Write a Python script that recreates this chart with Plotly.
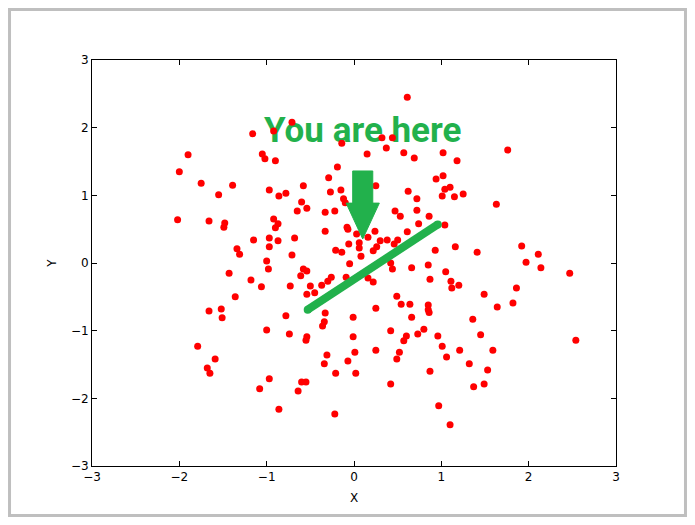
import plotly.graph_objects as go

# ---- data ----
pts_x = [0.61, -1.16, -0.92, -0.71, -1.90, -2.00, -1.05, -1.02, -0.90, -1.75, -1.39, -1.55, -0.97, -0.86, -0.78, -0.58, -0.60,
         -0.14, 0.32, 0.44, 0.37, 0.15, 0.57, 0.69, 1.02, -0.19, -0.29, -0.27, -0.15, -0.12, -0.10, 0.25, 0.62, 0.72, 0.94,
         1.02, 1.04, 1.10, 1.01, 1.76, 1.18, 1.15, 1.25, 1.63,
         -2.02, -1.66, -1.48, -1.49, -0.92, -0.87, -0.90, -0.65, -0.54, -1.15, -0.97, -0.87, -0.68, -0.97, -1.34, -1.31,
         -0.71, -1.00, -0.98, -1.43, -1.18, -1.06, -0.73, -0.58, -0.54, -0.61, -0.50, -0.54, -1.36, -1.66, -1.52, -1.51, -0.78,
         -0.33, -0.22, -0.33, -0.08, -0.07, 0.03, 0.16, 0.24, -0.21, -0.14, -0.06, 0.06, 0.06, 0.08, 0.22, 0.26, 0.30, 0.38,
         0.46, 0.50, 0.47, 0.53, 0.72, 0.86, 0.74, 0.61, 1.04, 0.93, -0.05, 0.42, 0.44, 0.66, 0.85, 1.05, 1.11, 0.87,
         -0.45, -0.37, -0.30, -0.26, -0.09, 0.16, 0.22, 0.49, 0.54, 0.64, 0.85, 0.85, 0.86, 0.25, -0.33, -0.01, 0.66,
         1.16, 1.41, 1.92, 2.11, 1.97, 2.14, 2.47, 1.12, 1.20, 1.49, 1.86, 1.64, 1.82, 1.36,
         -1.00, -0.74, -0.54, -0.55, -1.79, -1.59, -1.68, -1.65, -0.97, -1.08, -0.60, -0.55, -0.64, -0.86,
         -0.34, -0.36, -0.01, 0.42, 0.60, 0.57, 0.73, 0.80, 0.96, 1.01, 1.06, 0.25, 0.52, 0.49, -0.31, -0.34, 0.01,
         -0.07, -0.21, 0.02, 0.87, 0.42, 0.97, -0.22, 1.10,
         1.45, 1.21, 1.59, 1.32, 1.53, 1.49, 1.37, 2.54]
pts_y = [2.45, 1.91, 1.95, 2.08, 1.60, 1.35, 1.61, 1.54, 1.51, 1.18, 1.15, 1.01, 1.08, 0.99, 1.03, 1.14, 0.90,
         1.77, 1.85, 1.85, 1.70, 1.61, 1.63, 1.55, 1.63, 1.42, 1.26, 1.05, 1.08, 0.95, 0.89, 1.14, 1.06, 0.95, 1.24,
         1.29, 1.09, 1.12, 0.99, 1.67, 1.51, 0.98, 1.02, 0.87,
         0.64, 0.62, 0.59, 0.53, 0.65, 0.58, 0.52, 0.77, 0.81, 0.34, 0.37, 0.33, 0.37, 0.24, 0.21, 0.13,
         0.12, 0.03, -0.09, -0.15, -0.25, -0.35, -0.34, -0.09, -0.12, -0.19, -0.34, -0.46, -0.50, -0.71, -0.68, -0.81, -0.78,
         0.75, 0.77, 0.47, 0.53, 0.50, 0.43, 0.38, 0.47, 0.19, 0.16, 0.28, 0.30, 0.22, 0.10, 0.18, 0.24, 0.33, 0.34,
         0.28, 0.34, 0.77, 0.69, 0.78, 0.69, 0.58, 0.46, 0.56, 0.19, -0.01, 0.00, -0.09, -0.07, -0.03, -0.13, -0.27, -0.24,
         -0.44, -0.33, -0.27, -0.21, -0.21, -0.22, -0.28, -0.49, -0.61, -0.61, -0.62, -0.69, -0.73, -0.67, -0.74, -0.80, -0.80,
         0.24, 0.16, 0.25, 0.13, 0.01, -0.07, -0.15, -0.37, -0.33, -0.46, -0.37, -0.65, -0.59, -0.83,
         -0.99, -1.05, -1.09, -1.14, -1.23, -1.42, -1.55, -1.63, -1.71, -1.86, -1.76, -1.76, -1.89, -2.16,
         -0.87, -0.93, -1.09, -1.00, -1.08, -1.15, -1.05, -0.98, -1.08, -1.23, -1.39, -1.29, -1.32, -1.42, -1.36, -1.49, -1.32,
         -1.45, -1.63, -1.63, -1.60, -1.79, -2.11, -2.23, -2.39,
         -1.06, -1.29, -1.29, -1.49, -1.58, -1.79, -1.83, -1.14]

line_x = [-0.53, 0.96]
line_y = [-0.69, 0.57]

arrow_x = 0.10
arrow_tail_y = 1.36
arrow_tip_y = 0.355
arrow_head_len = 0.53
arrow_shaft_half = 0.115
arrow_head_half = 0.19

label_text = "You are here"
label_x = 0.10
label_y = 1.92

tick_vals = [-3, -2, -1, 0, 1, 2, 3]

GREEN = "#22b14c"
FONT = "DejaVu Sans"

fig = go.Figure()
# label drawn first so the points sit on top of it (as in the reference)
fig.add_trace(go.Scatter(x=[label_x], y=[label_y], mode="text", text=["<b>" + label_text + "</b>"],
                         textposition="middle center",
                         textfont=dict(family="Roboto", size=35, color=GREEN),
                         showlegend=False, hoverinfo="skip", cliponaxis=False))
fig.add_trace(go.Scatter(x=pts_x, y=pts_y, mode="markers",
                         marker=dict(color="#ff0000", size=7, line=dict(width=0)),
                         showlegend=False, hoverinfo="skip"))
fig.add_trace(go.Scatter(x=line_x, y=line_y, mode="lines+markers",
                         line=dict(color=GREEN, width=8),
                         marker=dict(color=GREEN, size=8),
                         showlegend=False, hoverinfo="skip"))

# arrow polygon in data coordinates
hb = arrow_tip_y + arrow_head_len
path = (f"M {arrow_x - arrow_shaft_half} {arrow_tail_y} "
        f"L {arrow_x + arrow_shaft_half} {arrow_tail_y} "
        f"L {arrow_x + arrow_shaft_half} {hb} "
        f"L {arrow_x + arrow_head_half} {hb} "
        f"L {arrow_x} {arrow_tip_y} "
        f"L {arrow_x - arrow_head_half} {hb} "
        f"L {arrow_x - arrow_shaft_half} {hb} Z")
fig.add_shape(type="path", path=path, xref="x", yref="y",
              fillcolor=GREEN, line=dict(color=GREEN, width=1), layer="above")

# outer gray frame (drawn at the figure edge)
fig.add_shape(type="rect", xref="paper", yref="paper", x0=-0.1574, x1=1.1326, y0=-0.1219, y1=1.1244,
              line=dict(color="#bfbfbf", width=3), fillcolor="rgba(0,0,0,0)", layer="above")

axis_common = dict(range=[-3, 3], tickvals=tick_vals, ticks="inside", ticklen=5, tickwidth=1,
                   tickcolor="black", showline=True, linecolor="black", linewidth=1, mirror="ticks",
                   showgrid=False, zeroline=False, tickfont=dict(family=FONT, size=12, color="black"))

fig.update_layout(
    width=679, height=509,
    margin=dict(l=84, r=71, t=52, b=51),
    paper_bgcolor="white", plot_bgcolor="white",
    xaxis=dict(**axis_common, title=dict(text="X", font=dict(family=FONT, size=12, color="black"), standoff=10)),
    yaxis=dict(**axis_common, title=dict(text="Y", font=dict(family=FONT, size=12, color="black"), standoff=11)),
)

fig.write_html("out.html")
